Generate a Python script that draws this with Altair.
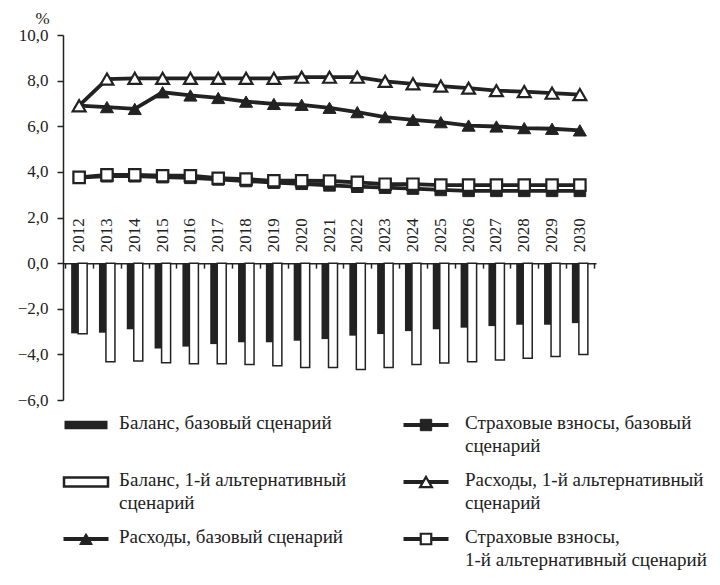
import altair as alt
import pandas as pd

# ---------------- data ----------------
years = [str(y) for y in range(2012, 2031)]
balance_base = [-3.08, -3.05, -2.90, -3.74, -3.66, -3.55, -3.47, -3.47, -3.40, -3.33,
                -3.18, -3.11, -2.98, -2.90, -2.83, -2.76, -2.70, -2.70, -2.63]
balance_alt = [-3.10, -4.32, -4.29, -4.37, -4.41, -4.41, -4.44, -4.50, -4.58, -4.58,
               -4.66, -4.58, -4.44, -4.38, -4.32, -4.25, -4.17, -4.09, -4.00]
exp_base = [6.90, 6.84, 6.76, 7.49, 7.35, 7.24, 7.08, 6.98, 6.94, 6.81,
            6.62, 6.40, 6.28, 6.18, 6.03, 5.99, 5.92, 5.89, 5.82]
exp_alt = [6.90, 8.07, 8.10, 8.10, 8.10, 8.10, 8.10, 8.10, 8.15, 8.15,
           8.15, 7.97, 7.86, 7.76, 7.67, 7.56, 7.52, 7.45, 7.39]
contrib_base = [3.75, 3.81, 3.81, 3.77, 3.74, 3.67, 3.60, 3.53, 3.48, 3.41,
                3.35, 3.31, 3.27, 3.21, 3.17, 3.17, 3.17, 3.17, 3.17]
contrib_alt = [3.76, 3.87, 3.87, 3.83, 3.83, 3.72, 3.68, 3.61, 3.61, 3.60,
               3.54, 3.46, 3.46, 3.42, 3.42, 3.42, 3.42, 3.42, 3.42]
y_ticks = [-6, -4, -2, 0, 2, 4, 6, 8, 10]

legend_labels = [
    "Баланс, базовый сценарий",
    "Баланс, 1-й альтернативный\nсценарий",
    "Расходы, базовый сценарий",
    "Страховые взносы, базовый\nсценарий",
    "Расходы, 1-й альтернативный\nсценарий",
    "Страховые взносы,\n1-й альтернативный сценарий",
]
legend_col = [0, 0, 0, 1, 1, 1]
legend_row = [0, 1, 2, 0, 1, 2]
legend_kind = ["bar_black", "bar_white", "line_tri_black",
               "line_sq_black", "line_tri_white", "line_sq_white"]

# ---------------- style ----------------
W, H = 533, 365
INK = "#222222"
FONT = "Liberation Serif"
RECT = "M-1,-0.2H1V0.2H-1Z"

df = pd.DataFrame({
    "year": years,
    "balance_base": balance_base,
    "balance_alt": balance_alt,
    "exp_base": exp_base,
    "exp_alt": exp_alt,
    "contrib_base": contrib_base,
    "contrib_alt": contrib_alt,
})

xs = alt.Scale(paddingInner=0, paddingOuter=0.08)
ys = alt.Scale(domain=[-6, 10], nice=False, zero=False)

# x axis drawn as the zero line (domain) with ticks at band edges
ax_x = alt.Axis(orient="bottom", offset=-H * 6 / 16, labels=False, title=None,
                tickBand="extent", tickSize=5, tickWidth=1.5, tickColor=INK,
                domainColor=INK, domainWidth=1.5)
ax_y = alt.Axis(values=y_ticks,
                labelExpr="replace(replace(format(datum.value, '.1f'), '.', ','), '-', '\u2212')",
                title="%", titleAngle=0, titleX=-21, titleY=-17, titleAlign="center",
                titleBaseline="middle", titleFont=FONT, titleFontSize=17,
                titleFontWeight="normal", titleColor=INK, grid=False,
                tickSize=6, tickWidth=1.5, tickColor=INK, domainColor=INK,
                domainWidth=1.5, labelPadding=9, labelFont=FONT, labelFontSize=17,
                labelFontWeight="normal", labelColor=INK)

X = alt.X("year:O", scale=xs, axis=ax_x)


def yenc(field):
    return alt.Y(f"{field}:Q", scale=ys, axis=ax_y)


base = alt.Chart(df)

bar_b = base.mark_bar(color=INK, width=9, xOffset=-3.5).encode(x=X, y=yenc("balance_base"))
bar_w = base.mark_bar(fill="white", stroke=INK, strokeWidth=1.5, width=9, xOffset=3.5).encode(
    x=X, y=yenc("balance_alt"))

# year labels standing above the zero line
year_lbl = base.mark_text(angle=270, align="left", baseline="middle", dx=11,
                          font=FONT, fontSize=17, color=INK).encode(
    x=X, y=alt.YDatum(0, scale=ys, axis=ax_y), text="year:N")


def line_layers(field, shape, filled_black, size):
    ln = base.mark_line(color=INK, strokeWidth=3.8).encode(x=X, y=yenc(field))
    if filled_black:
        pt = base.mark_point(shape=shape, filled=True, fill=INK, stroke=INK,
                             strokeWidth=1, size=size, opacity=1)
    else:
        pt = base.mark_point(shape=shape, filled=True, fill="white", stroke=INK,
                             strokeWidth=2.2, size=size, opacity=1)
    return [ln, pt.encode(x=X, y=yenc(field))]


main = alt.layer(
    bar_b, bar_w, year_lbl,
    *line_layers("contrib_base", "square", True, 135),
    *line_layers("contrib_alt", "square", False, 130),
    *line_layers("exp_base", "triangle-up", True, 170),
    *line_layers("exp_alt", "triangle-up", False, 165),
).properties(width=W, height=H)

# ---------------- legend ----------------
leg = pd.DataFrame({"label": legend_labels, "col": legend_col,
                    "row": legend_row, "kind": legend_kind})
lx = alt.X("col:O", scale=alt.Scale(type="point", range=[23, 363], padding=0), axis=None)
ly = alt.Y("row:O", scale=alt.Scale(type="point", range=[17, 131], padding=0), axis=None)
lb = alt.Chart(leg).encode(x=lx, y=ly)

seg = lb.mark_tick(orient="horizontal", size=45, thickness=4, color=INK, opacity=1).transform_filter(
    "indexof(datum.kind, 'line') == 0")
rb = lb.mark_point(shape=RECT, size=1850, filled=True, fill=INK, strokeWidth=0, opacity=1).transform_filter(
    "datum.kind == 'bar_black'")
rw = lb.mark_point(shape=RECT, size=1936, filled=True, fill="white", stroke=INK, strokeWidth=2.5,
                   opacity=1).transform_filter("datum.kind == 'bar_white'")
tb = lb.mark_point(shape="triangle-up", filled=True, fill=INK, stroke=INK, strokeWidth=1, size=160,
                   opacity=1).transform_filter("datum.kind == 'line_tri_black'")
tw = lb.mark_point(shape="triangle-up", filled=True, fill="white", stroke=INK, strokeWidth=2.2, size=140,
                   opacity=1).transform_filter("datum.kind == 'line_tri_white'")
sb = lb.mark_point(shape="square", filled=True, fill=INK, stroke=INK, strokeWidth=1, size=130,
                   opacity=1).transform_filter("datum.kind == 'line_sq_black'")
sw = lb.mark_point(shape="square", filled=True, fill="white", stroke=INK, strokeWidth=2.2, size=110,
                   opacity=1).transform_filter("datum.kind == 'line_sq_white'")

txt_style = dict(align="left", baseline="top", font=FONT, fontSize=19, color=INK,
                 lineBreak="\n", lineHeight=23, dy=-11)
tl = lb.mark_text(dx=33, **txt_style).encode(text="label:N").transform_filter("datum.col == 0")
tr = lb.mark_text(dx=39, **txt_style).encode(text="label:N").transform_filter("datum.col == 1")

legend = alt.layer(seg, rb, rw, tb, tw, sb, sw, tl, tr).properties(width=630, height=131)

chart = alt.vconcat(main, legend, spacing=0).properties(
    padding={"left": 9, "top": 1, "right": 2, "bottom": 1},
    background="white",
).configure(
    font=FONT,
    style={"guide-label": {"font": FONT, "fontSize": 17, "fill": INK},
           "guide-title": {"font": FONT, "fontSize": 17, "fill": INK}},
).configure_view(stroke=None).configure_axis(
    labelFont=FONT, labelFontSize=17, labelFontWeight="normal", labelColor=INK,
    titleFont=FONT, titleFontSize=17, titleFontWeight="normal", titleColor=INK,
).configure_axisY(labelFont=FONT, titleFont=FONT)

chart.save("out.html", embed_options={"renderer": "svg", "actions": False})
